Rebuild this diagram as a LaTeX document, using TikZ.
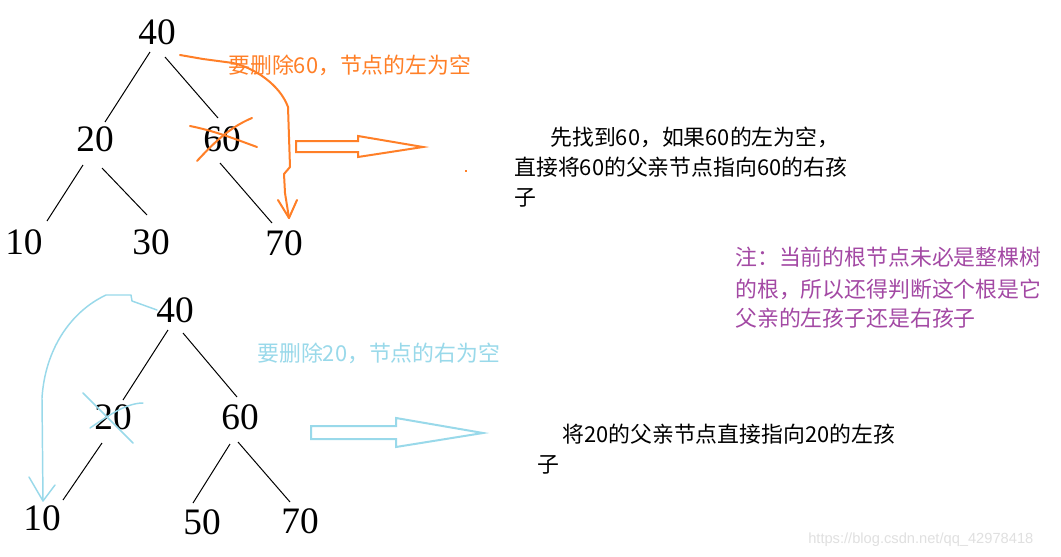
\documentclass[tikz,border=0pt]{standalone}
\usepackage{fontspec}
\usetikzlibrary{calc}
\newfontfamily\cjk{Noto Sans CJK SC}
\newfontfamily\numfont{Liberation Serif}
\newfontfamily\wmfont{Liberation Sans}
\definecolor{paintorange}{HTML}{FF7F27}
\definecolor{paintblue}{HTML}{99D9EA}
\definecolor{paintpurple}{HTML}{A349A4}
\definecolor{wmgray}{HTML}{E0E0E0}
\begin{document}
\begin{tikzpicture}[x=0.75pt,y=-0.75pt,
  num/.style={font=\numfont\fontsize{28}{28}\selectfont, inner sep=0pt},
  treeline/.style={draw=black, line width=0.75pt},
  cnline/.style={font=\cjk\fontsize{16.4}{16.4}\selectfont, inner sep=0pt, anchor=base west},
  orangestroke/.style={draw=paintorange, line width=1.5pt, line join=round, line cap=round},
  bluestroke/.style={draw=paintblue, line width=1.1pt, line join=round, line cap=round},
  hollowarrow/.style={line width=1.5pt, line join=miter, fill=none},
]
\useasboundingbox[fill=white] (0,0) rectangle (1061,557);

% ---------- top tree ----------
\node[num] (t40) at (157,32) {40};
\node[num] (t20) at (95,139) {20};
\node[num] (t60) at (222,139) {60};
\node[num] (t10) at (24,242) {10};
\node[num] (t30) at (151,242) {30};
\node[num] (t70) at (284,243) {70};

\draw[treeline] ($(t40)+(-7,20)$) -- ($(t20)+(10,-17)$);
\draw[treeline] ($(t40)+(8,25)$) -- ($(t60)+(-4,-21)$);
\draw[treeline] ($(t20)+(-12,26)$) -- ($(t10)+(23,-21)$);
\draw[treeline] ($(t20)+(7,29)$) -- ($(t30)+(-4,-27)$);
\draw[treeline] ($(t60)+(-2,24)$) -- ($(t70)+(-12,-20)$);

% orange cross on 60
\draw[orangestroke] (190,126) .. controls (215,131) and (235,139) .. (257,147);
\draw[orangestroke] (197,161) .. controls (212,145) and (228,128) .. (252,118);

% orange curved arrow
\coordinate (oa) at (180,55);
\coordinate (ob) at (289,218);
\draw[orangestroke] (oa) -- (203,59) -- (233,63) .. controls (255,68) and (280,85) .. (288,107) -- (290,167) -- (284,174) -- (285,193) -- (ob);
\draw[orangestroke] (278,200) -- (ob) -- (297,200);

\node[cnline, text=paintorange] (olabel) at (228,73) {要删除60，节点的左为空};

% orange hollow arrow
\draw[hollowarrow, draw=paintorange] (296,141) -- (358,141) -- (358,136) -- (423,147) -- (358,157) -- (358,152) -- (296,152) -- cycle;
\fill[paintorange] (465,170) rectangle (467,172);

% top explanation
\node[cnline] (ta1) at (550,145) {先找到60，如果60的左为空，};
\node[cnline] (ta2) at (514,175) {直接将60的父亲节点指向60的右孩};
\node[cnline] (ta3) at (514,205) {子};

% purple note
\node[cnline, text=paintpurple] (pn1) at (735,265) {注：当前的根节点未必是整棵树};
\node[cnline, text=paintpurple] (pn2) at (735,297) {的根，所以还得判断这个根是它};
\node[cnline, text=paintpurple] (pn3) at (735,326) {父亲的左孩子还是右孩子};

% ---------- bottom tree ----------
\node[num] (b40) at (175,310) {40};
\node[num] (b20) at (113,417) {20};
\node[num] (b60) at (240,417) {60};
\node[num] (b10) at (42,518) {10};
\node[num] (b50) at (202,522) {50};
\node[num] (b70) at (300,521) {70};

\draw[treeline] ($(b40)+(-7,20)$) -- ($(b20)+(10,-17)$);
\draw[treeline] ($(b40)+(8,23)$) -- ($(b60)+(-3,-20)$);
\draw[treeline] ($(b20)+(-11,26)$) -- ($(b10)+(21,-18)$);
\draw[treeline] ($(b60)+(-10,27)$) -- ($(b50)+(-9,-19)$);
\draw[treeline] ($(b60)+(-2,25)$) -- ($(b70)+(-10,-19)$);

% blue cross on 20
\draw[bluestroke] (83,393) .. controls (100,410) and (118,428) .. (133,443);
\draw[bluestroke] (90,428) .. controls (105,418) and (125,403) .. (143,403);

% blue curved arrow
\coordinate (ba) at (157,310);
\coordinate (bb) at (43,501);
\draw[bluestroke] (ba) -- (132,301) -- (131,295) -- (106,295) .. controls (70,312) and (45,350) .. (42,398) -- (bb);
\draw[bluestroke] (29,477) -- (bb) -- (55,485);

\node[cnline, text=paintblue] (blabel) at (257,361) {要删除20，节点的右为空};

% blue hollow arrow
\draw[hollowarrow, draw=paintblue] (311,426) -- (396,426) -- (396,418) -- (483,433) -- (396,447) -- (396,439) -- (311,439) -- cycle;

% bottom explanation
\node[cnline] (bt1) at (562,442) {将20的父亲节点直接指向20的左孩};
\node[cnline] (bt2) at (537,472) {子};

% watermark
\node[font=\wmfont\fontsize{11}{11}\selectfont, text=wmgray, inner sep=0pt, anchor=base west] (wm) at (808,543) {https://blog.csdn.net/qq\_42978418};
\end{tikzpicture}
\end{document}
